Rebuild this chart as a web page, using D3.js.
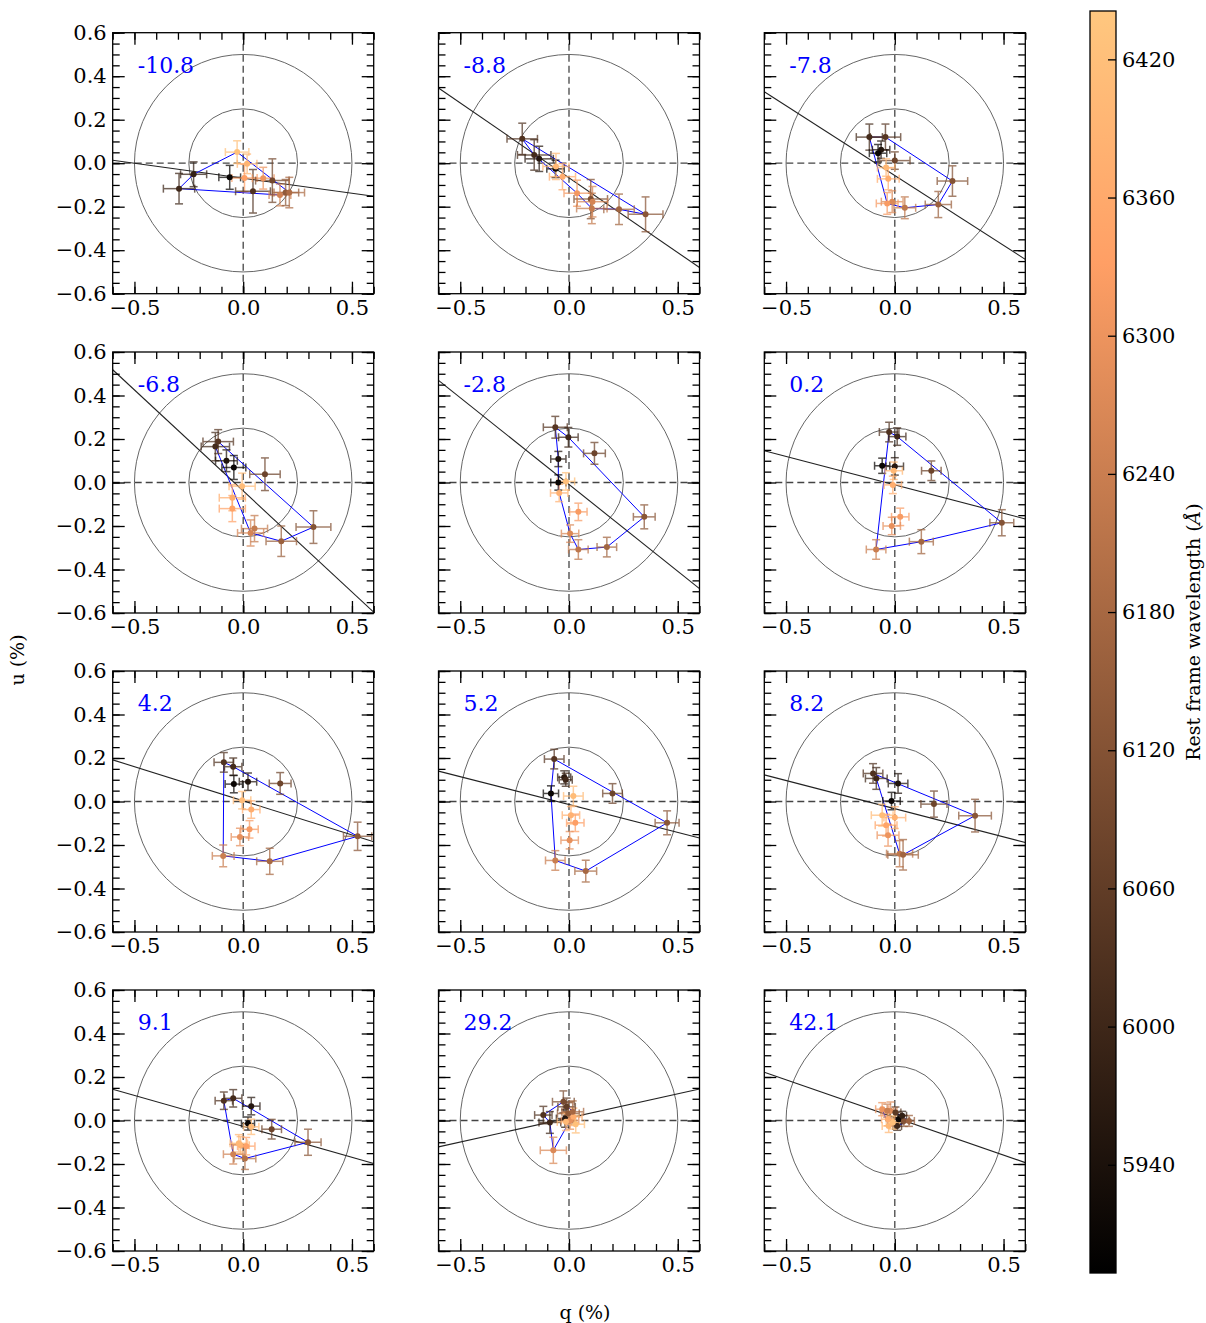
<!DOCTYPE html>
<html>
<head>
<meta charset="utf-8">
<script src="https://cdnjs.cloudflare.com/ajax/libs/d3/7.8.5/d3.min.js"></script>
<style>
  body { margin: 0; background: #fff; }
  text { font-family: "DejaVu Serif", serif; }
</style>
</head>
<body>
<svg width="1206" height="1323"></svg>
<script>
// epochs shown in each panel (days)
var epochs = ["-10.8", "-8.8", "-7.8", "-6.8", "-2.8", "0.2", "4.2", "5.2", "8.2", "9.1", "29.2", "42.1"];

// dominant axis fit u = a + b*q
var axisA = [-0.069, -0.067, -0.057, -0.039, -0.009, -0.011, 0.003, -0.014, -0.033, -0.027, 0.012, 0.014];
var axisB = [-0.138, -0.688, -0.642, -0.929, -0.798, -0.261, -0.314, -0.256, -0.259, -0.284, 0.222, -0.346];

var qData = [
  [-0.295, -0.228, -0.062, -0.028, 0.018, 0.006, 0.045, 0.092, 0.134, 0.169, 0.195, 0.212],
  [-0.215, -0.16, -0.137, -0.062, -0.06, -0.03, 0.037, 0.1, 0.108, 0.105, 0.23, 0.352],
  [-0.117, -0.043, -0.063, -0.077, 0, -0.04, -0.03, 0.265, 0.2, 0.046, -0.012, -0.035],
  [-0.115, -0.128, -0.077, -0.043, 0.1, -0.005, -0.05, -0.05, 0.034, 0.052, 0.175, 0.323],
  [-0.063, -0.003, 0.117, -0.049, -0.049, -0.014, -0.045, 0.043, 0.346, 0.005, 0.043, 0.174],
  [-0.026, 0.011, -0.058, 0, -0.005, 0.168, -0.009, 0.025, -0.014, 0.122, -0.086, 0.492],
  [-0.089, -0.046, -0.043, 0.022, 0.17, -0.005, 0.037, 0.029, -0.015, -0.092, 0.122, 0.526],
  [-0.068, -0.022, -0.015, -0.083, 0.02, 0.2, 0.009, 0.029, 0.003, -0.063, 0.077, 0.451],
  [-0.1, -0.085, 0.015, -0.015, 0.18, 0.369, -0.058, 0, -0.04, -0.031, 0.022, 0.038],
  [-0.089, -0.046, 0.037, 0.022, 0.037, 0.131, 0.298, -0.012, 0.014, -0.046, 0.008, -0.02],
  [-0.118, -0.088, -0.026, -0.018, -0.003, 0.005, -0.014, 0.02, 0.031, -0.072, -0.011, 0.017],
  [-0.058, -0.02, -0.028, 0.003, 0.018, 0.042, 0.065, 0.034, -0.031, 0.011, -0.035, -0.009]
];
var uData = [
  [-0.117, -0.051, -0.065, 0.051, -0.003, -0.068, -0.129, -0.069, -0.08, -0.146, -0.135, -0.135],
  [0.112, 0.038, 0.02, -0.026, -0.015, -0.062, -0.138, -0.165, -0.177, -0.208, -0.212, -0.235],
  [0.12, 0.12, 0.062, 0.046, 0.012, -0.02, -0.072, -0.082, -0.19, -0.205, -0.177, -0.185],
  [0.188, 0.165, 0.1, 0.069, 0.038, -0.017, -0.07, -0.12, -0.232, -0.212, -0.27, -0.205],
  [0.254, 0.208, 0.134, 0.108, 0, 0.005, -0.048, -0.135, -0.158, -0.235, -0.308, -0.297],
  [0.232, 0.211, 0.077, 0.074, 0.054, 0.054, -0.011, -0.158, -0.2, -0.272, -0.308, -0.185],
  [0.18, 0.16, 0.08, 0.091, 0.083, 0.006, -0.037, -0.128, -0.163, -0.25, -0.275, -0.16],
  [0.195, 0.111, 0.1, 0.037, 0.025, 0.037, -0.063, -0.098, -0.178, -0.271, -0.32, -0.098],
  [0.129, 0.106, 0.083, 0.002, -0.012, -0.065, -0.063, -0.074, -0.109, -0.155, -0.24, -0.245],
  [0.091, 0.102, 0.066, -0.014, -0.029, -0.04, -0.1, -0.114, -0.118, -0.155, -0.175, -0.105],
  [0.025, -0.009, 0.086, 0.009, 0.032, 0, -0.006, 0.017, -0.017, -0.137, 0.063, 0.04],
  [0.052, 0.045, -0.025, 0.037, 0.006, -0.002, -0.002, 0.022, 0.006, -0.025, 0.045, -0.009]
];
var qErr = [
  [0.072, 0.06, 0.05, 0.054, 0.045, 0.058, 0.08, 0.05, 0.077, 0.05, 0.06, 0.07],
  [0.07, 0.077, 0.065, 0.04, 0.06, 0.06, 0.06, 0.077, 0.07, 0.07, 0.07, 0.08],
  [0.06, 0.07, 0.04, 0.04, 0.07, 0.04, 0.05, 0.07, 0.06, 0.05, 0.05, 0.05],
  [0.07, 0.065, 0.05, 0.055, 0.07, 0.06, 0.06, 0.06, 0.06, 0.06, 0.07, 0.08],
  [0.055, 0.045, 0.05, 0.035, 0.035, 0.04, 0.04, 0.04, 0.05, 0.04, 0.045, 0.045],
  [0.045, 0.04, 0.035, 0.04, 0.04, 0.045, 0.04, 0.04, 0.04, 0.055, 0.045, 0.055],
  [0.045, 0.04, 0.04, 0.04, 0.05, 0.04, 0.04, 0.04, 0.04, 0.05, 0.06, 0.065],
  [0.045, 0.03, 0.03, 0.035, 0.045, 0.045, 0.04, 0.04, 0.04, 0.045, 0.05, 0.055],
  [0.045, 0.05, 0.045, 0.04, 0.06, 0.075, 0.05, 0.05, 0.05, 0.05, 0.06, 0.07],
  [0.04, 0.04, 0.04, 0.03, 0.035, 0.045, 0.06, 0.04, 0.04, 0.045, 0.05, 0.04],
  [0.04, 0.05, 0.05, 0.04, 0.05, 0.04, 0.04, 0.04, 0.04, 0.06, 0.04, 0.05],
  [0.03, 0.03, 0.03, 0.025, 0.02, 0.025, 0.025, 0.02, 0.03, 0.02, 0.03, 0.03]
];
var uErr = [
  [0.07, 0.057, 0.055, 0.052, 0.045, 0.063, 0.1, 0.05, 0.1, 0.05, 0.06, 0.07],
  [0.072, 0.07, 0.058, 0.04, 0.06, 0.06, 0.06, 0.09, 0.07, 0.07, 0.07, 0.08],
  [0.06, 0.06, 0.04, 0.04, 0.04, 0.04, 0.05, 0.07, 0.06, 0.05, 0.05, 0.05],
  [0.055, 0.065, 0.05, 0.055, 0.075, 0.06, 0.06, 0.06, 0.06, 0.06, 0.07, 0.075],
  [0.05, 0.045, 0.05, 0.035, 0.035, 0.04, 0.04, 0.04, 0.055, 0.04, 0.045, 0.045],
  [0.045, 0.04, 0.035, 0.04, 0.04, 0.045, 0.04, 0.04, 0.04, 0.055, 0.045, 0.06],
  [0.045, 0.04, 0.04, 0.04, 0.05, 0.04, 0.04, 0.04, 0.04, 0.05, 0.06, 0.065],
  [0.045, 0.03, 0.03, 0.035, 0.045, 0.045, 0.04, 0.04, 0.04, 0.045, 0.05, 0.055],
  [0.045, 0.05, 0.045, 0.04, 0.06, 0.075, 0.05, 0.05, 0.05, 0.05, 0.06, 0.07],
  [0.04, 0.04, 0.04, 0.03, 0.035, 0.045, 0.06, 0.04, 0.04, 0.045, 0.05, 0.04],
  [0.04, 0.05, 0.05, 0.04, 0.05, 0.04, 0.04, 0.04, 0.04, 0.06, 0.04, 0.05],
  [0.03, 0.04, 0.03, 0.025, 0.02, 0.025, 0.025, 0.02, 0.03, 0.02, 0.03, 0.03]
];
// rest frame wavelength of each bin (Angstrom)
var waveData = [
  [6000, 5980, 5910, 6425, 6390, 6330, 6030, 6300, 6090, 6250, 6140, 6190],
  [6030, 6010, 5960, 5910, 6400, 6370, 6310, 6110, 6260, 6230, 6170, 6130],
  [6010, 6040, 5950, 5910, 6080, 6400, 6370, 6120, 6160, 6220, 6270, 6320],
  [6040, 6010, 5950, 5910, 6080, 6410, 6370, 6340, 6260, 6230, 6160, 6120],
  [6040, 6000, 6080, 5950, 5910, 6420, 6380, 6320, 6130, 6270, 6220, 6170],
  [6030, 6000, 5910, 5960, 6400, 6080, 6370, 6320, 6290, 6170, 6240, 6120],
  [6030, 6010, 5910, 5950, 6080, 6410, 6370, 6320, 6290, 6240, 6180, 6130],
  [6040, 5970, 6000, 5910, 6410, 6080, 6380, 6330, 6290, 6240, 6180, 6130],
  [6030, 6000, 5950, 5910, 6080, 6130, 6410, 6380, 6350, 6300, 6220, 6170],
  [6030, 6010, 5960, 5910, 6410, 6080, 6130, 6380, 6340, 6250, 6200, 6400],
  [6030, 6000, 6100, 5960, 6140, 6290, 6400, 6370, 6420, 6270, 6060, 6180],
  [6300, 6280, 6400, 6050, 5910, 6120, 6160, 5980, 6370, 6000, 6240, 6420]
];
// points joined by the blue loop
var loopIdx = [
  [0, 1, 3, 11, 9, 0],
  [0, 11, 10, 9, 6, 1, 0],
  [0, 11, 9, 8, 7, 1, 0],
  [0, 11, 10, 8, 1, 0],
  [0, 1, 8, 11, 10, 9, 6, 4, 3, 0],
  [0, 1, 11, 9, 10, 0],
  [0, 1, 11, 10, 9, 0],
  [0, 11, 10, 9, 3, 0],
  [0, 5, 11, 10, 1, 0],
  [0, 1, 6, 10, 9, 0],
  [0, 2, 11, 5, 9, 1, 0],
  [3, 6, 9, 2, 0, 3]
];

var qTicks = [-0.5, 0, 0.5];
var uTicks = [-0.6, -0.4, -0.2, 0, 0.2, 0.4, 0.6];
var waveTicks = [5940, 6000, 6060, 6120, 6180, 6240, 6300, 6360, 6420];
var waveRange = [5893, 6441];
var circleRadii = [0.25, 0.5];

var svg = d3.select("svg");
var W = 261, H = 261;
var colLeft = [112.7, 438.5, 764.3];
var rowTop = [32.7, 352, 671, 990];

var x = d3.scaleLinear().domain([-0.6, 0.6]).range([0, W]);
var y = d3.scaleLinear().domain([-0.6, 0.6]).range([H, 0]);
var tNorm = d3.scaleLinear().domain(waveRange).range([0, 1]).clamp(true);

function copper(t) {
  return d3.rgb(Math.min(1, 1.25 * t) * 255, 0.7812 * t * 255, 0.4975 * t * 255).toString();
}
function waveColor(w) { return copper(tNorm(w)); }

var fmt = d3.format(".1f");

epochs.forEach(function (ep, p) {
  var col = p % 3, row = Math.floor(p / 3);
  var g = svg.append("g").attr("transform", "translate(" + colLeft[col] + "," + rowTop[row] + ")");

  g.append("clipPath").attr("id", "clip" + p)
    .append("rect").attr("width", W).attr("height", H);
  var inner = g.append("g").attr("clip-path", "url(#clip" + p + ")");

  // reference circles
  inner.selectAll(".ring").data(circleRadii).enter().append("circle")
    .attr("cx", x(0)).attr("cy", y(0))
    .attr("r", function (r) { return x(r) - x(0); })
    .attr("fill", "none").attr("stroke", "#666").attr("stroke-width", 1);

  // zero lines
  inner.append("line").attr("x1", x(0)).attr("x2", x(0)).attr("y1", 0).attr("y2", H)
    .attr("stroke", "#444").attr("stroke-width", 1.3).attr("stroke-dasharray", "7,4");
  inner.append("line").attr("x1", 0).attr("x2", W).attr("y1", y(0)).attr("y2", y(0))
    .attr("stroke", "#444").attr("stroke-width", 1.3).attr("stroke-dasharray", "7,4");

  // dominant axis
  inner.append("line")
    .attr("x1", x(-0.6)).attr("y1", y(axisA[p] + axisB[p] * -0.6))
    .attr("x2", x(0.6)).attr("y2", y(axisA[p] + axisB[p] * 0.6))
    .attr("stroke", "#222").attr("stroke-width", 1.1);

  var pts = qData[p].map(function (q, i) {
    return { q: q, u: uData[p][i], eq: qErr[p][i], eu: uErr[p][i], w: waveData[p][i] };
  });

  // blue loop
  inner.append("path")
    .datum(loopIdx[p].map(function (i) { return pts[i]; }))
    .attr("fill", "none").attr("stroke", "#0000ff").attr("stroke-width", 1)
    .attr("d", d3.line().x(function (d) { return x(d.q); }).y(function (d) { return y(d.u); }));

  // error bars
  var cap = 4;
  var eb = inner.selectAll(".eb").data(pts).enter().append("g")
    .attr("stroke", function (d) { return waveColor(d.w); })
    .attr("stroke-width", 1.5).attr("opacity", 0.72);
  eb.append("line")
    .attr("x1", function (d) { return x(d.q - d.eq); }).attr("x2", function (d) { return x(d.q + d.eq); })
    .attr("y1", function (d) { return y(d.u); }).attr("y2", function (d) { return y(d.u); });
  eb.append("line")
    .attr("x1", function (d) { return x(d.q); }).attr("x2", function (d) { return x(d.q); })
    .attr("y1", function (d) { return y(d.u - d.eu); }).attr("y2", function (d) { return y(d.u + d.eu); });
  [-1, 1].forEach(function (s) {
    eb.append("line")
      .attr("x1", function (d) { return x(d.q + s * d.eq); }).attr("x2", function (d) { return x(d.q + s * d.eq); })
      .attr("y1", function (d) { return y(d.u) - cap; }).attr("y2", function (d) { return y(d.u) + cap; });
    eb.append("line")
      .attr("x1", function (d) { return x(d.q) - cap; }).attr("x2", function (d) { return x(d.q) + cap; })
      .attr("y1", function (d) { return y(d.u + s * d.eu); }).attr("y2", function (d) { return y(d.u + s * d.eu); });
  });

  inner.selectAll(".pt").data(pts).enter().append("circle")
    .attr("cx", function (d) { return x(d.q); }).attr("cy", function (d) { return y(d.u); })
    .attr("r", 3).attr("fill", function (d) { return waveColor(d.w); });

  // axes: ticks inward on all four sides
  var qMinorTicks = d3.range(-6, 7).map(function (k) { return k / 10; });
  var uMinorTicks = d3.range(-12, 13).map(function (k) { return k / 20; });

  g.append("g").attr("transform", "translate(0," + H + ")")
    .call(d3.axisBottom(x).tickValues(qMinorTicks).tickSize(-7).tickFormat(""));
  g.append("g").attr("transform", "translate(0," + H + ")")
    .call(d3.axisBottom(x).tickValues(qTicks).tickSize(-12).tickPadding(6).tickFormat(fmt));
  g.append("g").call(d3.axisTop(x).tickValues(qMinorTicks).tickSize(-7).tickFormat(""));
  g.append("g").call(d3.axisTop(x).tickValues(qTicks).tickSize(-12).tickFormat(""));
  g.append("g").call(d3.axisLeft(y).tickValues(uMinorTicks).tickSize(-7).tickFormat(""));
  g.append("g").call(d3.axisLeft(y).tickValues(uTicks).tickSize(-12).tickPadding(6)
    .tickFormat(col === 0 ? fmt : ""));
  g.append("g").attr("transform", "translate(" + W + ",0)")
    .call(d3.axisRight(y).tickValues(uMinorTicks).tickSize(-7).tickFormat(""));
  g.append("g").attr("transform", "translate(" + W + ",0)")
    .call(d3.axisRight(y).tickValues(uTicks).tickSize(-12).tickFormat(""));

  g.selectAll(".domain").remove();
  g.selectAll(".tick line").attr("stroke", "#000").attr("stroke-width", 1.3);
  g.selectAll(".tick text").attr("font-family", "DejaVu Serif").attr("font-size", 21).attr("fill", "#000");

  g.append("rect").attr("width", W).attr("height", H)
    .attr("fill", "none").attr("stroke", "#000").attr("stroke-width", 1.3);

  g.append("text").attr("x", 25).attr("y", 40)
    .attr("font-size", 22).attr("fill", "#0000ff").text(ep);
});

// axis labels
svg.append("text").attr("transform", "translate(24,660) rotate(-90)")
  .attr("text-anchor", "middle").attr("font-size", 19).text("u (%)");
svg.append("text").attr("x", 585).attr("y", 1319)
  .attr("text-anchor", "middle").attr("font-size", 19).text("q (%)");

// colorbar
var cbX = 1090, cbW = 26, cbTop = 11, cbBot = 1273;
var cbY = d3.scaleLinear().domain(waveRange).range([cbBot, cbTop]);
var grad = svg.append("defs").append("linearGradient").attr("id", "copperGrad")
  .attr("x1", 0).attr("y1", 1).attr("x2", 0).attr("y2", 0);
[0, 0.8, 1].forEach(function (t) {
  grad.append("stop").attr("offset", t).attr("stop-color", copper(t));
});
svg.append("rect").attr("x", cbX).attr("y", cbTop).attr("width", cbW).attr("height", cbBot - cbTop)
  .attr("fill", "url(#copperGrad)").attr("stroke", "#000").attr("stroke-width", 1.3);
var cbAxis = svg.append("g").attr("transform", "translate(" + (cbX + cbW) + ",0)")
  .call(d3.axisRight(cbY).tickValues(waveTicks).tickSize(-8).tickPadding(6).tickFormat(d3.format("d")));
cbAxis.select(".domain").remove();
cbAxis.selectAll(".tick line").attr("stroke", "#000").attr("stroke-width", 1.3);
cbAxis.selectAll(".tick text").attr("font-family", "DejaVu Serif").attr("font-size", 21).attr("fill", "#000");

var cbLabel = svg.append("text").attr("transform", "translate(1200,632) rotate(-90)")
  .attr("text-anchor", "middle").attr("font-size", 19);
cbLabel.append("tspan").text("Rest frame wavelength (");
cbLabel.append("tspan").attr("font-style", "italic").text("Å");
cbLabel.append("tspan").text(")");
</script>
</body>
</html>
